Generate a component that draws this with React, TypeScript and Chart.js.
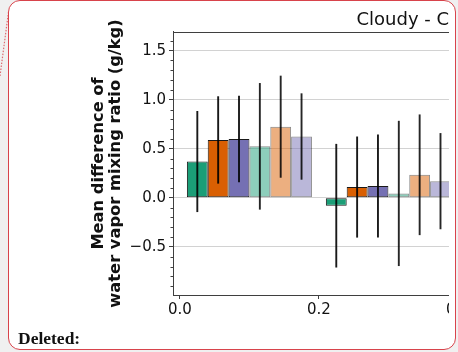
import React, { useEffect, useRef } from 'react';
import { Chart, registerables } from 'chart.js';

Chart.register(...registerables);

// Group positions on the x axis (fraction of cloud cover bins)
const groupPositions = [0.1, 0.3];

// Mean differences (g/kg) per series, one value per group
const greenMeans = [0.37, -0.08];
const orangeMeans = [0.59, 0.11];
const purpleMeans = [0.6, 0.12];
const lightGreenMeans = [0.525, 0.045];
const lightOrangeMeans = [0.725, 0.235];
const lightPurpleMeans = [0.625, 0.17];

// Half-length of the error bars (g/kg)
const greenErr = [0.515, 0.63];
const orangeErr = [0.445, 0.515];
const purpleErr = [0.44, 0.525];
const lightGreenErr = [0.645, 0.74];
const lightOrangeErr = [0.52, 0.615];
const lightPurpleErr = [0.44, 0.49];

const yTickValues = [-0.5, 0.0, 0.5, 1.0, 1.5];
const xTickStep = 0.2;
const yMinorStep = 0.1;

const titleText = 'Cloudy - Clear';
const yTitleLines = ['Mean difference of', 'water vapor mixing ratio (g/kg)'];

const SPINE = '#3f3f3f';
const TEXT = '#111';

const seriesSpec = [
  { means: greenMeans, err: greenErr, fill: 'rgba(27,158,119,1)', edge: 'rgba(0,0,0,0.9)', errColor: 'rgba(0,0,0,0.9)' },
  { means: orangeMeans, err: orangeErr, fill: 'rgba(217,95,2,1)', edge: 'rgba(0,0,0,0.9)', errColor: 'rgba(0,0,0,0.9)' },
  { means: purpleMeans, err: purpleErr, fill: 'rgba(117,112,179,1)', edge: 'rgba(0,0,0,0.9)', errColor: 'rgba(0,0,0,0.9)' },
  { means: lightGreenMeans, err: lightGreenErr, fill: 'rgba(27,158,119,0.5)', edge: 'rgba(0,0,0,0.45)', errColor: 'rgba(0,0,0,0.85)' },
  { means: lightOrangeMeans, err: lightOrangeErr, fill: 'rgba(217,95,2,0.5)', edge: 'rgba(0,0,0,0.45)', errColor: 'rgba(0,0,0,0.85)' },
  { means: lightPurpleMeans, err: lightPurpleErr, fill: 'rgba(117,112,179,0.5)', edge: 'rgba(0,0,0,0.45)', errColor: 'rgba(0,0,0,0.85)' },
];

const fmt = (v: number) => {
  const s = Math.abs(v) < 1e-9 ? '0.0' : v.toFixed(1);
  return s.replace('-', '\u2212');
};

// Error bars, top/right spines and minor y ticks
const decorations = {
  id: 'decorations',
  afterDatasetsDraw(chart: any) {
    const ctx = chart.ctx;
    const y = chart.scales.y;
    chart.data.datasets.forEach((ds: any, i: number) => {
      const meta = chart.getDatasetMeta(i);
      const spec = seriesSpec[i];
      meta.data.forEach((bar: any, j: number) => {
        const v = spec.means[j];
        const e = spec.err[j];
        ctx.save();
        ctx.strokeStyle = spec.errColor;
        ctx.lineWidth = 1.9;
        ctx.beginPath();
        ctx.moveTo(bar.x, y.getPixelForValue(v + e));
        ctx.lineTo(bar.x, y.getPixelForValue(v - e));
        ctx.stroke();
        ctx.restore();
      });
    });
  },
  afterDraw(chart: any) {
    const ctx = chart.ctx;
    const { left, right, top } = chart.chartArea;
    const y = chart.scales.y;
    ctx.save();
    ctx.strokeStyle = SPINE;
    ctx.lineWidth = 1;
    ctx.beginPath();
    ctx.moveTo(left, Math.round(top) + 0.5);
    ctx.lineTo(right, Math.round(top) + 0.5);
    ctx.moveTo(Math.round(right) - 0.5, top);
    ctx.lineTo(Math.round(right) - 0.5, chart.chartArea.bottom);
    ctx.stroke();
    // minor ticks on the y axis
    const lo = Math.ceil(y.min / yMinorStep - 1e-6);
    const hi = Math.floor(y.max / yMinorStep + 1e-6);
    ctx.beginPath();
    for (let k = lo; k <= hi; k++) {
      if (k % 5 === 0) continue;
      const py = Math.round(y.getPixelForValue(k * yMinorStep)) + 0.5;
      ctx.moveTo(left - 2.5, py);
      ctx.lineTo(left, py);
    }
    ctx.stroke();
    ctx.restore();
  },
};

function BarChart() {
  const ref = useRef<HTMLCanvasElement>(null);
  useEffect(() => {
    if (!ref.current) return;
    const datasets = seriesSpec.map((s, i) => ({
      label: `series ${i + 1}`,
      data: groupPositions.map((x, j) => ({ x, y: s.means[j] })),
      backgroundColor: s.fill,
      borderColor: s.edge,
      borderWidth: 1,
      borderSkipped: false as const,
      categoryPercentage: 0.9,
      barPercentage: 1.0,
    }));
    const chart = new Chart(ref.current, {
      type: 'bar',
      data: { datasets },
      plugins: [decorations],
      options: {
        responsive: false,
        maintainAspectRatio: false,
        animation: false,
        devicePixelRatio: 1,
        layout: { padding: 0, autoPadding: false },
        plugins: {
          legend: { display: false },
          tooltip: { enabled: false },
          title: {
            display: true,
            text: titleText,
            color: TEXT,
            font: { family: 'DejaVu Sans', size: 18, weight: 'normal', lineHeight: 1.2 },
            padding: { top: 9.7, bottom: 0.7 },
          },
        },
        scales: {
          x: {
            type: 'linear',
            min: -0.01,
            max: 0.95,
            offset: false,
            afterFit: (scale: any) => { scale.height = 35; },
            grid: { display: true, offset: false, drawOnChartArea: false, drawTicks: true, tickLength: 4, tickColor: SPINE },
            border: { display: true, color: SPINE, width: 1 },
            ticks: {
              stepSize: xTickStep,
              includeBounds: false,
              padding: 2,
              color: TEXT,
              maxRotation: 0,
              autoSkip: false,
              font: { family: 'DejaVu Sans', size: 15, lineHeight: 1.2 },
              callback: (v: any) => fmt(Number(v)),
            },
          },
          y: {
            type: 'linear',
            min: -0.99,
            max: 1.69,
            afterFit: (scale: any) => { scale.width = 173; },
            afterBuildTicks: (scale: any) => { scale.ticks = yTickValues.map((value) => ({ value })); },
            grid: { color: '#d2d2d2', lineWidth: 1, drawTicks: true, tickLength: 4, tickColor: SPINE },
            border: { display: true, color: SPINE, width: 1 },
            ticks: {
              padding: 3,
              color: TEXT,
              font: { family: 'DejaVu Sans', size: 15, lineHeight: 1.2 },
              callback: (v: any) => fmt(Number(v)),
            },
            title: {
              display: true,
              text: yTitleLines,
              color: TEXT,
              font: { family: 'DejaVu Sans', size: 16.3, weight: 'bold', lineHeight: 1.06 },
              padding: { top: 90, bottom: 0 },
            },
          },
        },
      },
    });
    return () => chart.destroy();
  }, []);
  return <canvas ref={ref} width={840} height={330} style={{ display: 'block', width: 840, height: 330 }} />;
}

export default function App() {
  return (
    <div style={{ position: 'fixed', left: 0, top: 0, width: 458, height: 352, background: '#f0f0f0', overflow: 'hidden' }}>
      <svg width={20} height={90} style={{ position: 'absolute', left: 0, top: 0 }}>
        <line x1={8.5} y1={12} x2={0} y2={76} stroke="#dd6a70" strokeWidth={1.2} strokeDasharray="1.5 1.5" />
      </svg>
      <div
        style={{
          position: 'absolute', left: 8, top: 0, width: 448, height: 350, boxSizing: 'border-box',
          border: '1.5px solid #d8434b', borderRadius: 12, background: '#fff',
        }}
      />
      <div style={{ position: 'absolute', left: 0, top: 0, width: 449, height: 330, overflow: 'hidden' }}>
        <BarChart />
      </div>
      <div
        style={{
          position: 'absolute', left: 18, top: 330, fontFamily: '"Liberation Serif", serif', fontWeight: 'bold',
          fontSize: 17.5, lineHeight: '17px', color: '#111', whiteSpace: 'nowrap',
        }}
      >
        Deleted:
      </div>
    </div>
  );
}
